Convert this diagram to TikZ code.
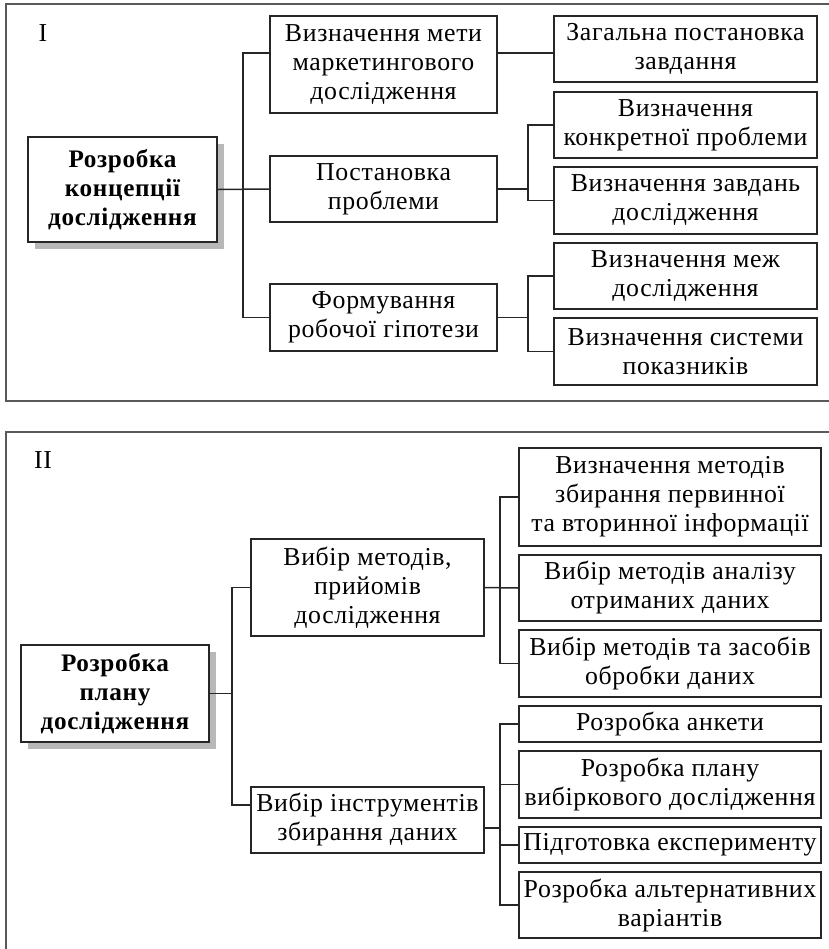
\documentclass[tikz,border=0pt]{standalone}
\usepackage{fontspec}
\setmainfont[LetterSpace=2.5]{Liberation Serif}
\usetikzlibrary{shadows}

\tikzset{
  box/.style={draw=black!85, line width=0.75pt, fill=white, align=center, inner sep=1pt,
    font=\fontsize{12.9}{14.5}\selectfont},
  rootbox/.style={box, font=\fontsize{12.6}{14.5}\selectfont\bfseries,
    drop shadow={shadow xshift=3.5pt, shadow yshift=-3.5pt, fill=black!28, opacity=1}},
  conn/.style={draw=black!85, line width=0.75pt},
  frame/.style={draw=black!65, line width=1pt}
}

\begin{document}
\begin{tikzpicture}[x=0.5pt,y=-0.5pt]
   \useasboundingbox (0,0) rectangle (829,949);
   \draw[frame] (829,4) -- (6,4) -- (6,401) -- (829,401);
   \draw[frame] (829,432) -- (6,432) -- (6,949);
   \node[font=\fontsize{12.9}{14.5}\selectfont] (numI) at (43,33) {I};
   \node[font=\fontsize{12.9}{14.5}\selectfont] (numII) at (43,460) {II};

   \node[rootbox, minimum width=94.5pt, minimum height=52.5pt] (rootI) at (122.5,189.5) {Розробка\\концепції\\дослідження};
   \node[box, minimum width=113.5pt, minimum height=48.5pt] (A) at (383.5,64.5) {Визначення мети\\маркетингового\\дослідження};
   \node[box, minimum width=113.5pt, minimum height=33pt] (B) at (383.5,189) {Постановка\\проблеми};
   \node[box, minimum width=113.5pt, minimum height=33.5pt] (C) at (383.5,317.5) {Формування\\робочої гіпотези};
   \node[box, minimum width=131.5pt, minimum height=33pt] (D1) at (685.5,49) {Загальна постановка\\завдання};
   \node[box, minimum width=131.5pt, minimum height=33pt] (D2) at (685.5,125) {Визначення\\конкретної проблеми};
   \node[box, minimum width=131.5pt, minimum height=33.5pt] (D3) at (685.5,200.5) {Визначення завдань\\дослідження};
   \node[box, minimum width=131.5pt, minimum height=33pt] (D4) at (685.5,276) {Визначення меж\\дослідження};
   \node[box, minimum width=131.5pt, minimum height=33.5pt] (D5) at (685.5,351.5) {Визначення системи\\показників};

   \coordinate (jI) at (243,189);
   \coordinate (jB) at (528,189);
   \coordinate (jC) at (528,317.5);
   \draw[conn] (rootI.east) -- (B.west);
   \draw[conn] (A.west |- 0,53) -| (jI) |- (C.west);
   \draw[conn] (A.east |- 0,53) -- (D1.west |- 0,53);
   \draw[conn] (B.east) -- (jB);
   \draw[conn] (D2.west) -| (jB) |- (D3.west);
   \draw[conn] (C.east) -- (jC);
   \draw[conn] (D4.west) -| (jC) |- (D5.west);

   \node[rootbox, minimum width=94pt, minimum height=48.5pt] (rootII) at (115,693.5) {Розробка\\плану\\дослідження};
   \node[box, minimum width=116.5pt, minimum height=48.5pt] (E) at (367.5,587.5) {Вибір методів,\\прийомів\\дослідження};
   \node[box, minimum width=116.5pt, minimum height=33pt] (F) at (367.5,820) {Вибір інструментів\\збирання даних};
   \node[box, minimum width=151pt, minimum height=49pt] (G1) at (670,497) {Визначення методів\\збирання первинної\\та вторинної інформації};
   \node[box, minimum width=151pt, minimum height=33pt] (G2) at (670,588) {Вибір методів аналізу\\отриманих даних};
   \node[box, minimum width=151pt, minimum height=33.5pt] (G3) at (670,663.5) {Вибір методів та засобів\\обробки даних};
   \node[box, minimum width=151pt, minimum height=18pt] (H1) at (670,724) {Розробка анкети};
   \node[box, minimum width=151pt, minimum height=33.5pt] (H2) at (670,784.5) {Розробка плану\\вибіркового дослідження};
   \node[box, minimum width=151pt, minimum height=18pt] (H3) at (670,845) {Підготовка експерименту};
   \node[box, minimum width=151pt, minimum height=33pt] (H4) at (670,905) {Розробка альтернативних\\варіантів};

   \coordinate (jII) at (232,693.5);
   \coordinate (jE) at (500,587.5);
   \coordinate (jF) at (500,828);
   \draw[conn] (rootII.east) -- (jII);
   \draw[conn] (E.west) -| (jII) |- (F.west |- 0,805);
   \draw[conn] (E.east) -- (G2.west);
   \draw[conn] (G1.west) -| (jE) |- (G3.west);
   \draw[conn] (F.east |- jF) -- (jF);
   \draw[conn] (H1.west) -| (jF) |- (H4.west);
   \draw[conn] (jF |- H2.west) -- (H2.west);
   \draw[conn] (jF |- H3.west) -- (H3.west);
\end{tikzpicture}
\end{document}
